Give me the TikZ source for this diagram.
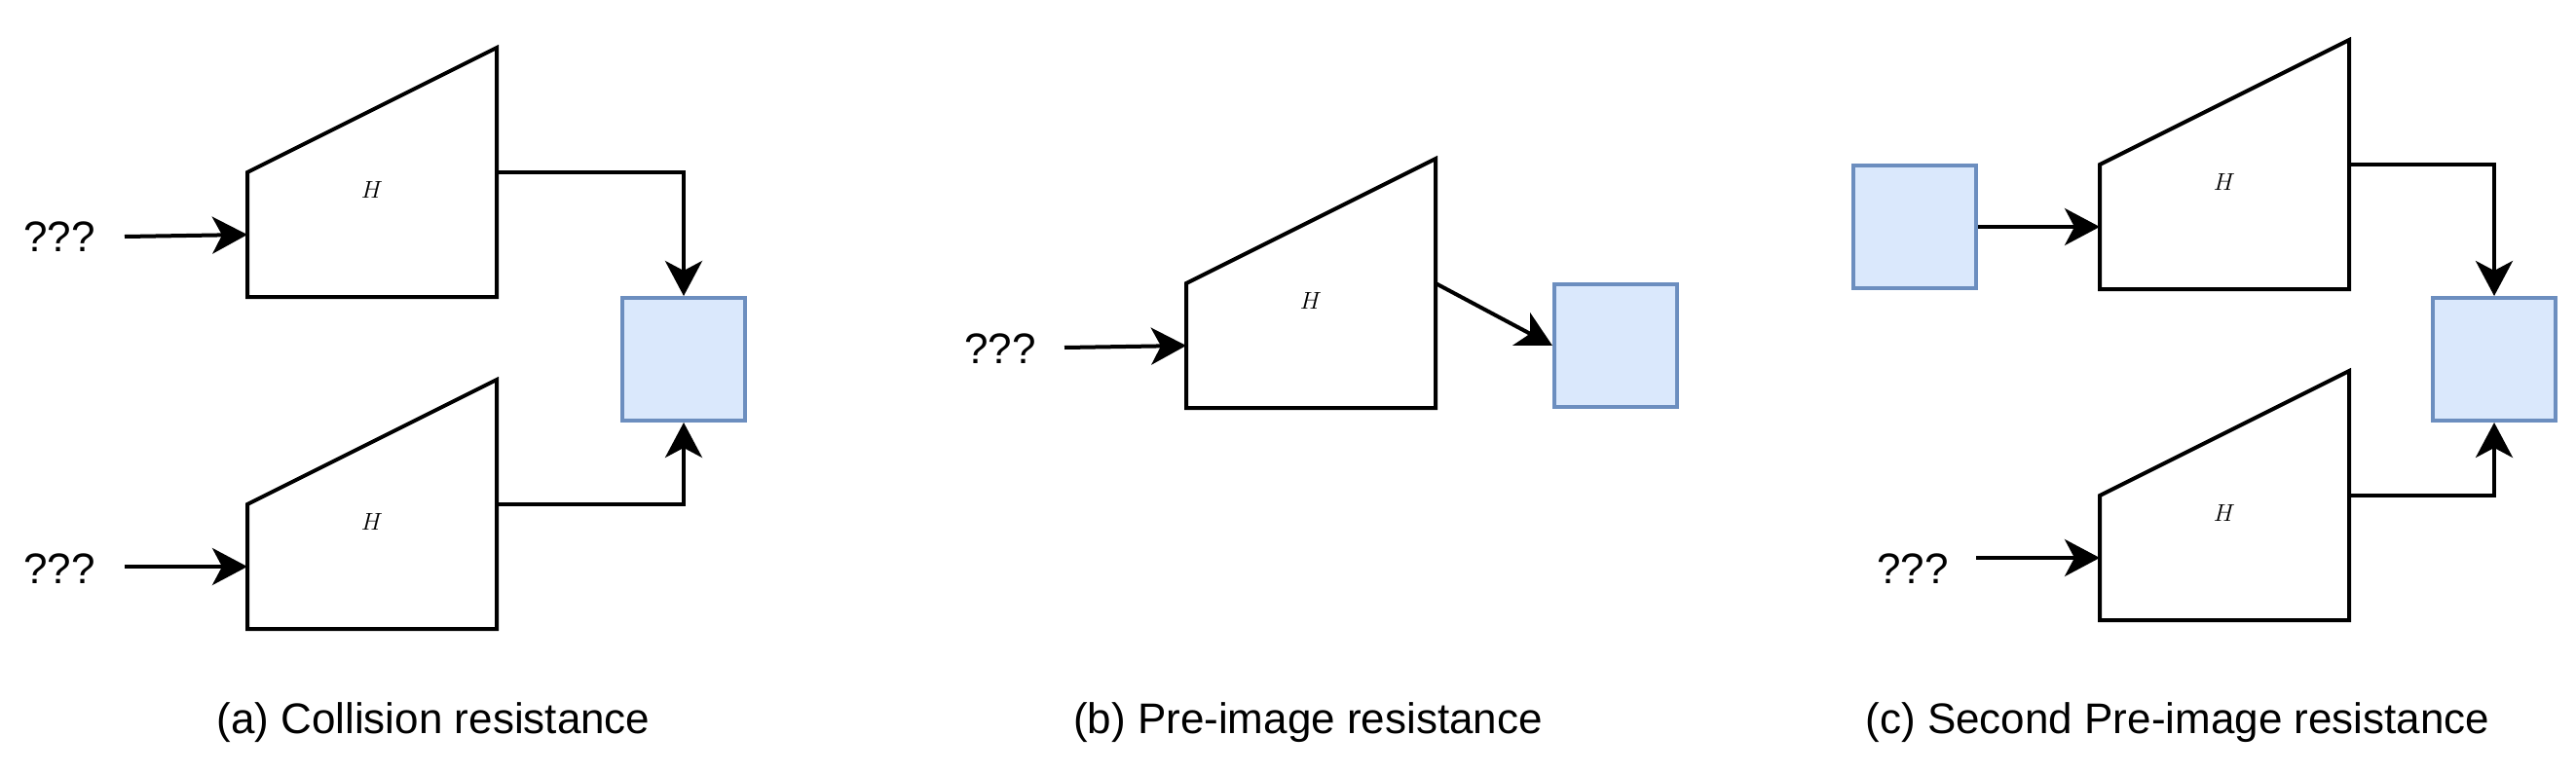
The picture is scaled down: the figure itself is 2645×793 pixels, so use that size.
\documentclass[tikz,border=0pt]{standalone}
\usepackage{fontspec}
\setmainfont{Liberation Sans}
\usetikzlibrary{arrows.meta}
\begin{document}
\begin{tikzpicture}[x=1pt,y=-1pt,
  ln/.style={line width=4pt,line join=miter},
  arr/.style={ln,-{Stealth[length=36pt,width=38pt,inset=10pt]}},
  box/.style={draw=blue!30!gray,draw={rgb,255:red,108;green,142;blue,191},fill={rgb,255:red,218;green,232;blue,252},line width=4pt,minimum width=126pt,minimum height=126pt,inner sep=0pt},
  txt/.style={font=\fontsize{44}{50}\selectfont,inner sep=0pt},
  hh/.style={font=\fontsize{54}{60}\selectfont\rmfamily,inner sep=0pt}]
\useasboundingbox (0,0) rectangle (2645,793);
% trapezoid macro via pic
\tikzset{trap/.pic={
  \draw[ln] (0,0) -- (0,-128) -- (256,-256) -- (256,0) -- cycle;
  \node[hh] at (128,-110) {$H$};
  \coordinate (-in) at (0,-64);
  \coordinate (-out) at (256,-128);
}}
% (a)
\pic (a1) at (254,305) {trap};
\pic (a2) at (254,646) {trap};
\node[box] (ab) at (702,369) {};
\node[txt] (aq1) at (61,243) {???};
\node[txt] (aq2) at (61,584) {???};
\coordinate (aq1e) at (128,243);
\coordinate (aq2e) at (128,582);
\draw[arr] (aq1e) -- (a1-in);
\draw[arr] (aq2e) -- (a2-in);
\draw[arr] (a1-out) -| (ab.north);
\draw[arr] (a2-out) -| (ab.south);
\node[txt] (ac) at (445,742) {(a) Collision resistance};
% (b)
\pic (b1) at (1218,419) {trap};
\node[box] (bb) at (1659,355) {};
\node[txt] (bq) at (1027,358) {???};
\coordinate (bqe) at (1093,357);
\draw[arr] (bqe) -- (b1-in);
\draw[arr] (b1-out) -- (bb.west);
\node[txt] (bc) at (1343,742) {(b) Pre-image resistance};
% (c)
\pic (c1) at (2156,297) {trap};
\pic (c2) at (2156,637) {trap};
\node[box] (cin) at (1966,233) {};
\node[box] (cb) at (2561,369) {};
\node[txt] (cq) at (1964,584) {???};
\coordinate (cqe) at (2029,573);
\draw[arr] (cin.east) -- (c1-in);
\draw[arr] (cqe) -- (c2-in);
\draw[arr] (c1-out) -| (cb.north);
\draw[arr] (c2-out) -| (cb.south);
\node[txt] (cc) at (2236,742) {(c) Second Pre-image resistance};
\end{tikzpicture}
\end{document}
